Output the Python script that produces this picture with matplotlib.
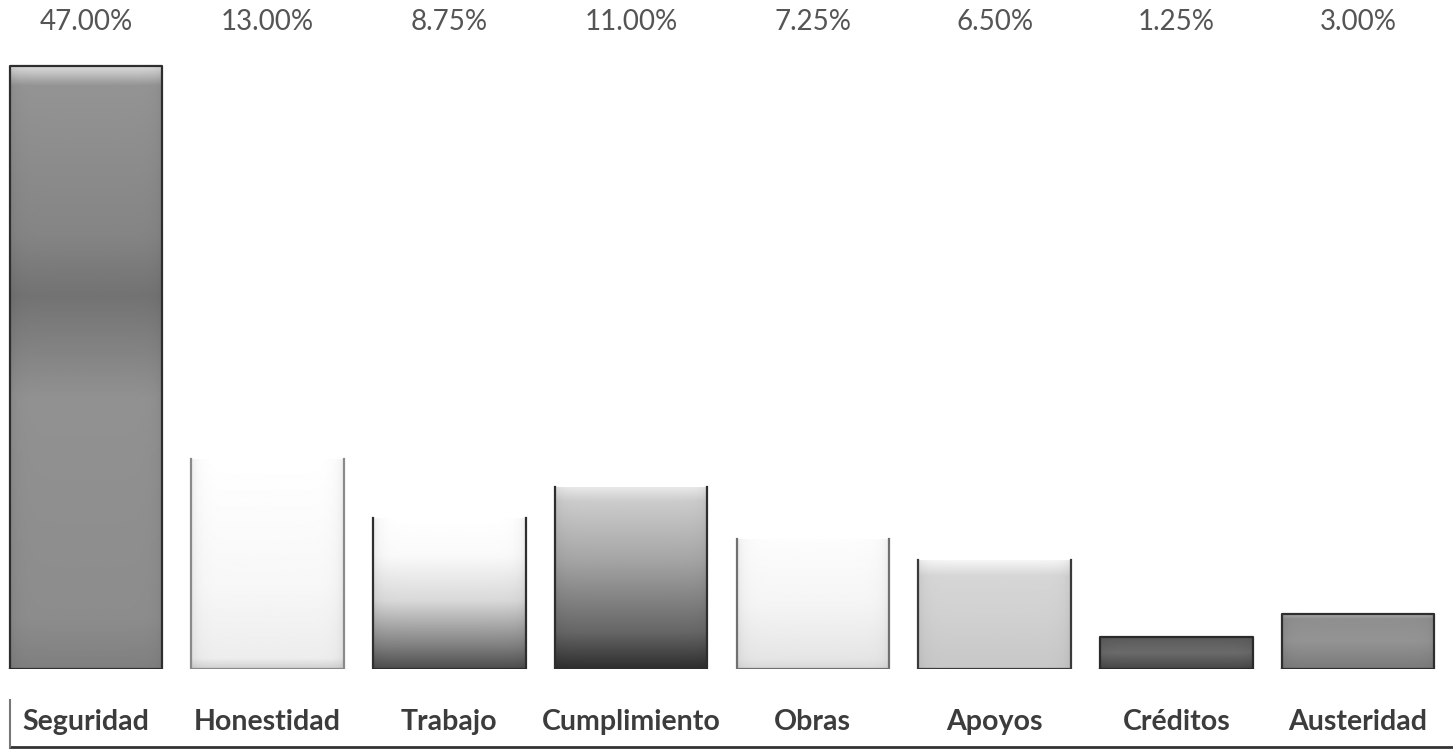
import numpy as np
import matplotlib.pyplot as plt
from matplotlib.lines import Line2D

categorias = ["Seguridad", "Honestidad", "Trabajo", "Cumplimiento",
              "Obras", "Apoyos", "Créditos", "Austeridad"]
porcentajes = [47.00, 13.00, 8.75, 11.00, 7.25, 6.50, 1.25, 3.00]
# alturas tal como aparecen dibujadas en la imagen (escala del 47%)
altura_barras = [47.0, 16.4, 11.8, 14.2, 10.1, 8.5, 2.5, 4.3]

# degradado de gris por barra: (posicion desde abajo, nivel de gris)
gradientes = [
    [(0, 0.50), (0.08, 0.55), (0.45, 0.57), (0.62, 0.45), (0.72, 0.52), (0.97, 0.58), (1, 0.85)],
    [(0, 0.82), (0.05, 0.93), (0.4, 0.97), (1, 1.0)],
    [(0, 0.30), (0.15, 0.50), (0.45, 0.85), (0.75, 0.98), (1, 1.0)],
    [(0, 0.18), (0.2, 0.40), (0.6, 0.65), (0.92, 0.80), (1, 0.92)],
    [(0, 0.85), (0.08, 0.90), (0.5, 0.96), (1, 0.99)],
    [(0, 0.78), (0.5, 0.82), (0.85, 0.84), (1, 0.97)],
    [(0, 0.28), (0.5, 0.42), (1, 0.35)],
    [(0, 0.48), (0.5, 0.58), (0.9, 0.56), (1, 0.70)],
]
bordes = ["#2e2e2e", "#8a8a8a", "#2e2e2e", "#2e2e2e", "#707070", "#3a3a3a", "#2a2a2a", "#2e2e2e"]
borde_superior = [True, False, False, False, False, False, True, True]

plt.rcParams['font.family'] = ['Lato', 'DejaVu Sans']

fig = plt.figure(figsize=(14.53, 7.49), dpi=100)
fig.patch.set_facecolor("white")
ax = fig.add_axes([0, 80 / 749, 1, 669 / 749])

x = np.arange(len(categorias))
bars = ax.bar(x, altura_barras, width=0.84, facecolor="none",
              edgecolor="none", zorder=3)

t = np.linspace(0, 1, 256)
u = np.linspace(0, 1, 64)
lado = 1 - 0.06 * np.exp(-u / 0.04) - 0.06 * np.exp(-(1 - u) / 0.04)
for bar, stops, ec, top in zip(bars, gradientes, bordes, borde_superior):
    x0, y0 = bar.get_x(), bar.get_y()
    w, h = bar.get_width(), bar.get_height()
    col = np.interp(t, [s[0] for s in stops], [s[1] for s in stops])
    img = col[:, None] * lado[None, :]
    im = ax.imshow(img, extent=[x0, x0 + w, y0, y0 + h], origin="lower",
                   cmap="gray", vmin=0, vmax=1, aspect="auto", zorder=2)
    im.set_clip_path(bar)
    if top:
        ax.plot([x0, x0, x0 + w, x0 + w, x0], [y0, y0 + h, y0 + h, y0, y0],
                color=ec, lw=1.6, zorder=3, solid_joinstyle="round")
    else:
        ax.plot([x0, x0, x0 + w, x0 + w], [y0 + h, y0, y0, y0 + h],
                color=ec, lw=1.6, zorder=3, solid_joinstyle="round")

spacing = 181.7
ax.set_xlim(-86 / spacing, 7 + (1453 - 1358) / spacing)
ax.set_ylim(0, 47 * 669 / 603)
ax.axis("off")

for xi, p in zip(x, porcentajes):
    ax.text(xi, 0.967, f"{p:.2f}%", transform=ax.get_xaxis_transform(),
            ha="center", va="center", fontsize=20, color="#555555")

for xi, c in zip(x, categorias):
    ax.text(xi, -0.079, c, transform=ax.get_xaxis_transform(),
            ha="center", va="center", fontsize=20.5, fontweight="bold",
            color="#3c3c3c", clip_on=False)

# borde de la tabla bajo las categorias
fig.add_artist(Line2D([10 / 1453, 1], [2 / 749, 2 / 749], color="#333333", lw=2))
fig.add_artist(Line2D([10 / 1453, 10 / 1453], [2 / 749, 49 / 749], color="#777777", lw=1.5))

fig.savefig("out.png", dpi=100)
